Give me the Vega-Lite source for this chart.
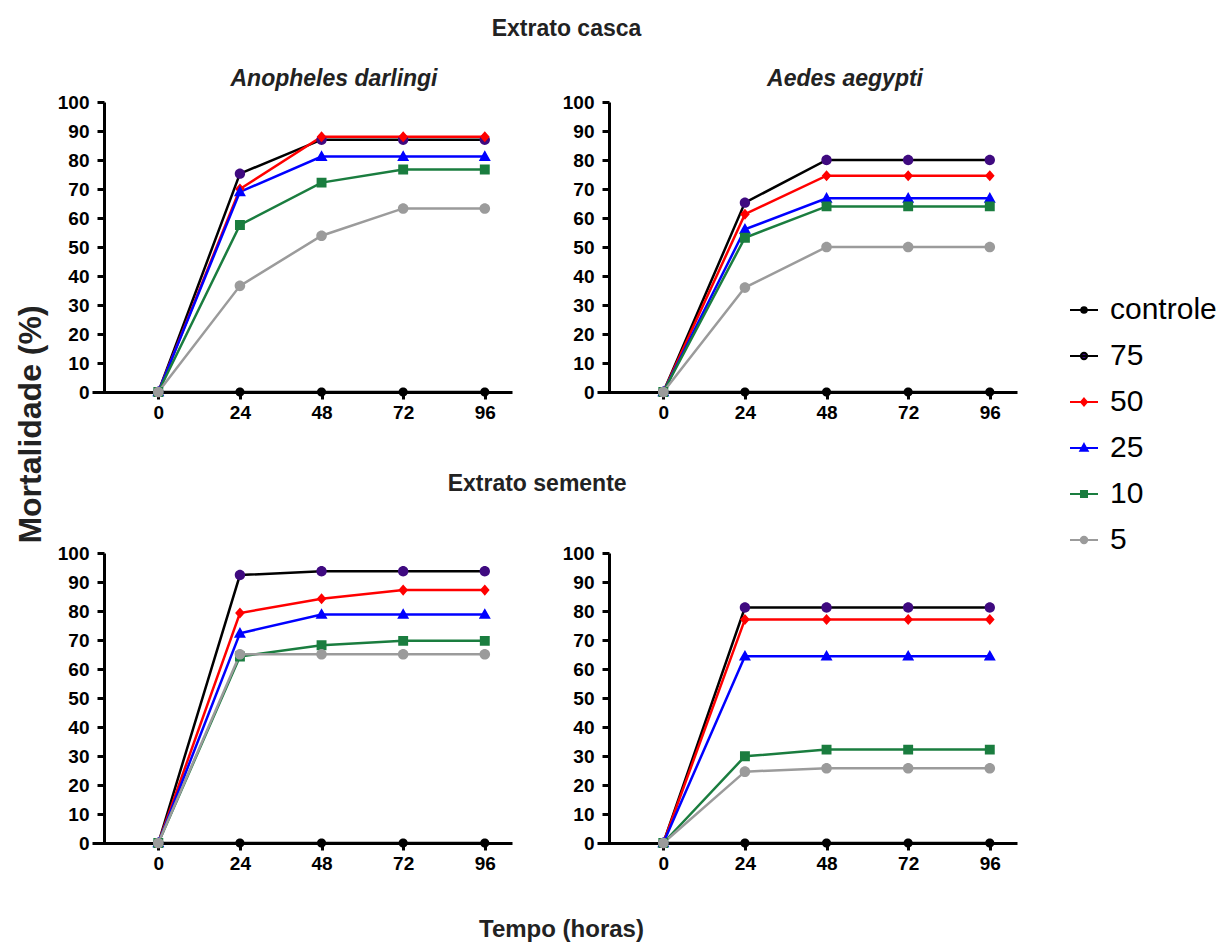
{
  "$schema": "https://vega.github.io/schema/vega-lite/v6.json",
  "padding": {"left": 14, "top": 18, "right": 5, "bottom": 5},
  "background": "white",
  "data": {"values": [
    {"p":1,"s":"controle","t":0,"m":0},{"p":1,"s":"controle","t":24,"m":0},{"p":1,"s":"controle","t":48,"m":0},{"p":1,"s":"controle","t":72,"m":0},{"p":1,"s":"controle","t":96,"m":0},
    {"p":1,"s":"75","t":0,"m":0},{"p":1,"s":"75","t":24,"m":75.3},{"p":1,"s":"75","t":48,"m":87},{"p":1,"s":"75","t":72,"m":87},{"p":1,"s":"75","t":96,"m":87},
    {"p":1,"s":"50","t":0,"m":0},{"p":1,"s":"50","t":24,"m":70},{"p":1,"s":"50","t":48,"m":88},{"p":1,"s":"50","t":72,"m":88},{"p":1,"s":"50","t":96,"m":88},
    {"p":1,"s":"25","t":0,"m":0},{"p":1,"s":"25","t":24,"m":69},{"p":1,"s":"25","t":48,"m":81.2},{"p":1,"s":"25","t":72,"m":81.2},{"p":1,"s":"25","t":96,"m":81.2},
    {"p":1,"s":"10","t":0,"m":0},{"p":1,"s":"10","t":24,"m":57.6},{"p":1,"s":"10","t":48,"m":72.2},{"p":1,"s":"10","t":72,"m":76.7},{"p":1,"s":"10","t":96,"m":76.7},
    {"p":1,"s":"5","t":0,"m":0},{"p":1,"s":"5","t":24,"m":36.6},{"p":1,"s":"5","t":48,"m":53.9},{"p":1,"s":"5","t":72,"m":63.3},{"p":1,"s":"5","t":96,"m":63.3},
    {"p":2,"s":"controle","t":0,"m":0},{"p":2,"s":"controle","t":24,"m":0},{"p":2,"s":"controle","t":48,"m":0},{"p":2,"s":"controle","t":72,"m":0},{"p":2,"s":"controle","t":96,"m":0},
    {"p":2,"s":"75","t":0,"m":0},{"p":2,"s":"75","t":24,"m":65.3},{"p":2,"s":"75","t":48,"m":80},{"p":2,"s":"75","t":72,"m":80},{"p":2,"s":"75","t":96,"m":80},
    {"p":2,"s":"50","t":0,"m":0},{"p":2,"s":"50","t":24,"m":61.3},{"p":2,"s":"50","t":48,"m":74.6},{"p":2,"s":"50","t":72,"m":74.6},{"p":2,"s":"50","t":96,"m":74.6},
    {"p":2,"s":"25","t":0,"m":0},{"p":2,"s":"25","t":24,"m":56.1},{"p":2,"s":"25","t":48,"m":66.8},{"p":2,"s":"25","t":72,"m":66.8},{"p":2,"s":"25","t":96,"m":66.8},
    {"p":2,"s":"10","t":0,"m":0},{"p":2,"s":"10","t":24,"m":53.2},{"p":2,"s":"10","t":48,"m":64},{"p":2,"s":"10","t":72,"m":64},{"p":2,"s":"10","t":96,"m":64},
    {"p":2,"s":"5","t":0,"m":0},{"p":2,"s":"5","t":24,"m":36},{"p":2,"s":"5","t":48,"m":50},{"p":2,"s":"5","t":72,"m":50},{"p":2,"s":"5","t":96,"m":50},
    {"p":3,"s":"controle","t":0,"m":0},{"p":3,"s":"controle","t":24,"m":0},{"p":3,"s":"controle","t":48,"m":0},{"p":3,"s":"controle","t":72,"m":0},{"p":3,"s":"controle","t":96,"m":0},
    {"p":3,"s":"75","t":0,"m":0},{"p":3,"s":"75","t":24,"m":92.4},{"p":3,"s":"75","t":48,"m":93.7},{"p":3,"s":"75","t":72,"m":93.7},{"p":3,"s":"75","t":96,"m":93.7},
    {"p":3,"s":"50","t":0,"m":0},{"p":3,"s":"50","t":24,"m":79.3},{"p":3,"s":"50","t":48,"m":84.2},{"p":3,"s":"50","t":72,"m":87.2},{"p":3,"s":"50","t":96,"m":87.2},
    {"p":3,"s":"25","t":0,"m":0},{"p":3,"s":"25","t":24,"m":72.3},{"p":3,"s":"25","t":48,"m":78.8},{"p":3,"s":"25","t":72,"m":78.8},{"p":3,"s":"25","t":96,"m":78.8},
    {"p":3,"s":"10","t":0,"m":0},{"p":3,"s":"10","t":24,"m":64.3},{"p":3,"s":"10","t":48,"m":68.2},{"p":3,"s":"10","t":72,"m":69.7},{"p":3,"s":"10","t":96,"m":69.7},
    {"p":3,"s":"5","t":0,"m":0},{"p":3,"s":"5","t":24,"m":65.1},{"p":3,"s":"5","t":48,"m":65.1},{"p":3,"s":"5","t":72,"m":65.1},{"p":3,"s":"5","t":96,"m":65.1},
    {"p":4,"s":"controle","t":0,"m":0},{"p":4,"s":"controle","t":24,"m":0},{"p":4,"s":"controle","t":48,"m":0},{"p":4,"s":"controle","t":72,"m":0},{"p":4,"s":"controle","t":96,"m":0},
    {"p":4,"s":"75","t":0,"m":0},{"p":4,"s":"75","t":24,"m":81.2},{"p":4,"s":"75","t":48,"m":81.2},{"p":4,"s":"75","t":72,"m":81.2},{"p":4,"s":"75","t":96,"m":81.2},
    {"p":4,"s":"50","t":0,"m":0},{"p":4,"s":"50","t":24,"m":77.1},{"p":4,"s":"50","t":48,"m":77.1},{"p":4,"s":"50","t":72,"m":77.1},{"p":4,"s":"50","t":96,"m":77.1},
    {"p":4,"s":"25","t":0,"m":0},{"p":4,"s":"25","t":24,"m":64.4},{"p":4,"s":"25","t":48,"m":64.4},{"p":4,"s":"25","t":72,"m":64.4},{"p":4,"s":"25","t":96,"m":64.4},
    {"p":4,"s":"10","t":0,"m":0},{"p":4,"s":"10","t":24,"m":29.9},{"p":4,"s":"10","t":48,"m":32.2},{"p":4,"s":"10","t":72,"m":32.2},{"p":4,"s":"10","t":96,"m":32.2},
    {"p":4,"s":"5","t":0,"m":0},{"p":4,"s":"5","t":24,"m":24.6},{"p":4,"s":"5","t":48,"m":25.8},{"p":4,"s":"5","t":72,"m":25.8},{"p":4,"s":"5","t":96,"m":25.8}
  ]},
  "bounds": "flush",
  "spacing": 451,
  "vconcat": [
    {
      "title": {"text": "Extrato casca", "fontSize": 23, "fontWeight": "bold", "color": "#222", "anchor": "middle", "offset": 27, "dx": 51},
      "bounds": "flush",
      "spacing": 85,
      "hconcat": [
        {
          "width": 420, "height": 290,
          "title": {"text": "Anopheles darlingi", "fontSize": 23, "fontWeight": "bold", "fontStyle": "italic", "color": "#222", "anchor": "middle", "dx": 32, "offset": 2},
          "transform": [{"filter": "datum.p == 1"}],
          "encoding": {
            "x": {"field": "t", "type": "quantitative", "scale": {"domain": [-19.5, 104]}, "axis": {"values": [0, 24, 48, 72, 96], "title": null}},
            "y": {"field": "m", "type": "quantitative", "scale": {"domain": [0, 100]}, "axis": {"values": [0,10,20,30,40,50,60,70,80,90,100], "offset": -12, "title": "Mortalidade (%)", "titleFontSize": 32, "titleX": -74, "titleY": 322, "titleAngle": -90, "titleAlign": "center", "titleBaseline": "middle"}}
          },
          "layer": [
            {"mark": {"type": "line", "strokeWidth": 2.5}, "encoding": {"stroke": {"field": "s", "type": "nominal", "scale": {"domain": ["controle","75","50","25","10","5"], "range": ["#000000","#000000","#ff0000","#0000ff","#1a7d3f","#9b9b9b"]}, "legend": {"title": null, "orient": "none", "legendX": 977, "legendY": 193, "padding": 0, "labelFont": "Liberation Sans", "labelFontSize": 30, "labelColor": "#000", "symbolSize": 196, "symbolStrokeWidth": 2, "labelOffset": 11, "rowPadding": 16}}}},
            {"mark": {"type": "point", "filled": true, "opacity": 1, "strokeWidth": 0, "size": 530}, "encoding": {"fill": {"field": "s", "type": "nominal", "scale": {"domain": ["controle","75","50","25","10","5"], "range": ["#000000","#3f0a80","#ff0000","#0000ff","#1a7d3f","#9b9b9b"]}}, "shape": {"field": "s", "type": "nominal", "scale": {"domain": ["controle","75","50","25","10","5"], "range": ["M-2,0H2M-0.4,0A0.4,0.4 0 1,0 0.4,0A0.4,0.4 0 1,0 -0.4,0Z", "M-2,0H2M-0.45,0A0.45,0.45 0 1,0 0.45,0A0.45,0.45 0 1,0 -0.45,0Z", "M-2,0H2M0,-0.48L0.42,0L0,0.48L-0.42,0Z", "M-2,0H2M0,-0.55L0.52,0.38L-0.52,0.38Z", "M-2,0H2M-0.43,-0.43H0.43V0.43H-0.43Z", "M-2,0H2M-0.46,0A0.46,0.46 0 1,0 0.46,0A0.46,0.46 0 1,0 -0.46,0Z"]}}}}
          ]
        },
        {
          "width": 420, "height": 290,
          "title": {"text": "Aedes aegypti", "fontSize": 23, "fontWeight": "bold", "fontStyle": "italic", "color": "#222", "anchor": "middle", "dx": 38, "offset": 2},
          "transform": [{"filter": "datum.p == 2"}],
          "encoding": {
            "x": {"field": "t", "type": "quantitative", "scale": {"domain": [-19.5, 104]}, "axis": {"values": [0, 24, 48, 72, 96], "title": null}},
            "y": {"field": "m", "type": "quantitative", "scale": {"domain": [0, 100]}, "axis": {"values": [0,10,20,30,40,50,60,70,80,90,100], "offset": -12, "title": null}}
          },
          "layer": [
            {"mark": {"type": "line", "strokeWidth": 2.5}, "encoding": {"stroke": {"field": "s", "type": "nominal"}}},
            {"mark": {"type": "point", "filled": true, "opacity": 1, "strokeWidth": 0, "size": 530}, "encoding": {"fill": {"field": "s", "type": "nominal"}, "shape": {"field": "s", "type": "nominal"}}}
          ]
        }
      ]
    },
    {
      "title": {"text": "Extrato semente", "fontSize": 23, "fontWeight": "bold", "color": "#222", "anchor": "middle", "offset": 48},
      "bounds": "flush",
      "spacing": 85,
      "hconcat": [
        {
          "width": 420, "height": 290,
          "transform": [{"filter": "datum.p == 3"}],
          "encoding": {
            "x": {"field": "t", "type": "quantitative", "scale": {"domain": [-19.5, 104]}, "axis": {"values": [0, 24, 48, 72, 96], "title": "Tempo (horas)", "titleFontSize": 24, "titleX": 469, "titleY": 86, "titleAlign": "center", "titleBaseline": "middle"}},
            "y": {"field": "m", "type": "quantitative", "scale": {"domain": [0, 100]}, "axis": {"values": [0,10,20,30,40,50,60,70,80,90,100], "offset": -12, "title": null}}
          },
          "layer": [
            {"mark": {"type": "line", "strokeWidth": 2.5}, "encoding": {"stroke": {"field": "s", "type": "nominal"}}},
            {"mark": {"type": "point", "filled": true, "opacity": 1, "strokeWidth": 0, "size": 530}, "encoding": {"fill": {"field": "s", "type": "nominal"}, "shape": {"field": "s", "type": "nominal"}}}
          ]
        },
        {
          "width": 420, "height": 290,
          "transform": [{"filter": "datum.p == 4"}],
          "encoding": {
            "x": {"field": "t", "type": "quantitative", "scale": {"domain": [-19.5, 104]}, "axis": {"values": [0, 24, 48, 72, 96], "title": null}},
            "y": {"field": "m", "type": "quantitative", "scale": {"domain": [0, 100]}, "axis": {"values": [0,10,20,30,40,50,60,70,80,90,100], "offset": -12, "title": null}}
          },
          "layer": [
            {"mark": {"type": "line", "strokeWidth": 2.5}, "encoding": {"stroke": {"field": "s", "type": "nominal"}}},
            {"mark": {"type": "point", "filled": true, "opacity": 1, "strokeWidth": 0, "size": 530}, "encoding": {"fill": {"field": "s", "type": "nominal"}, "shape": {"field": "s", "type": "nominal"}}}
          ]
        }
      ]
    }
  ],
  "config": {
    "view": {"stroke": null},
    "font": "Liberation Sans",
    "axis": {"grid": false, "domainColor": "#000", "domainWidth": 3, "tickColor": "#000", "tickWidth": 3, "tickSize": 7, "labelColor": "#000", "labelFont": "Liberation Sans", "labelFontSize": 19, "labelFontWeight": "bold", "titleFont": "Liberation Sans", "titleFontWeight": "bold", "titleColor": "#222", "labelFlush": false, "labelOverlap": false},
    "axisX": {"labelPadding": 4},
    "axisY": {"labelPadding": 8},
    "title": {"font": "Liberation Sans"}
  }
}
